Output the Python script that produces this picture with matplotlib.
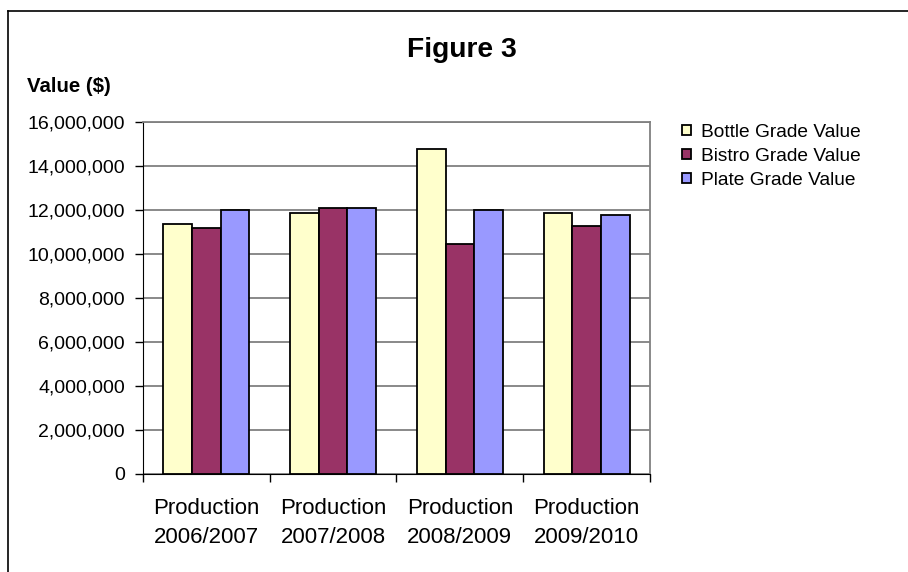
import matplotlib
matplotlib.use("Agg")
import matplotlib.pyplot as plt
import numpy as np
from matplotlib.lines import Line2D
from matplotlib.ticker import FuncFormatter, FixedLocator

plt.rcParams['font.family'] = ['Liberation Sans', 'DejaVu Sans']

categories = ["Production\n2006/2007", "Production\n2007/2008", "Production\n2008/2009", "Production\n2009/2010"]
series_names = ["Bottle Grade Value", "Bistro Grade Value", "Plate Grade Value"]
bottle = [11350000, 11850000, 14770000, 11850000]
bistro = [11180000, 12090000, 10450000, 11270000]
plate = [12000000, 12090000, 12000000, 11760000]
colors = ["#FFFFCC", "#993366", "#9999FF"]

fig = plt.figure(figsize=(9.08, 5.72), dpi=100)
ax = fig.add_axes([143/908, 1-474/572, 507/908, 352/572])

x = np.arange(len(categories))
w = 0.226
for i, (vals, name, c) in enumerate(zip([bottle, bistro, plate], series_names, colors)):
    ax.bar(x + (i-1)*w, vals, width=w, color=c, edgecolor='black', linewidth=1.3, label=name, zorder=3)

ax.set_xlim(-0.5, 3.5)
ax.set_ylim(0, 16000000)
ax.set_yticks(np.arange(0, 16000001, 2000000))
ax.yaxis.set_major_formatter(FuncFormatter(lambda v, p: f"{int(v):,}"))
ax.yaxis.grid(True, color='#808080', linewidth=1.3, zorder=0)
ax.set_xticks(x)
ax.set_xticklabels(categories, fontsize=16, linespacing=1.5)
ax.tick_params(axis='x', which='major', length=0, pad=17)
ax.xaxis.set_minor_locator(FixedLocator([-0.5, 0.5, 1.5, 2.5, 3.5]))
ax.tick_params(axis='x', which='minor', length=6, width=1, color='black')
ax.tick_params(axis='y', length=6, width=1, labelsize=14, pad=7)
for s in ['top', 'right']:
    ax.spines[s].set_color('#808080')
    ax.spines[s].set_linewidth(1.3)
ax.spines['left'].set_color('black')
ax.spines['bottom'].set_color('black')

fig.text(462/908, 1-56.7/572, "Figure 3", ha='center', va='baseline', fontsize=20.3, fontweight='bold')
fig.text(27/908, 1-92.3/572, "Value ($)", ha='left', va='baseline', fontsize=14.7, fontweight='bold')

handles, labels = ax.get_legend_handles_labels()
leg = fig.legend(handles, labels, loc='upper left', bbox_to_anchor=(682/908, 1-124/572),
                 frameon=False, fontsize=13.8, handlelength=0.47, handleheight=0.47,
                 handletextpad=0.5, labelspacing=0.36, borderaxespad=0, borderpad=0)

fig.add_artist(Line2D([8/908, 8/908], [0, 1-10.5/572], transform=fig.transFigure, color='black', linewidth=1.2))
fig.add_artist(Line2D([8/908, 1], [1-10.5/572, 1-10.5/572], transform=fig.transFigure, color='black', linewidth=1.2))

fig.savefig("out.png", dpi=100)
